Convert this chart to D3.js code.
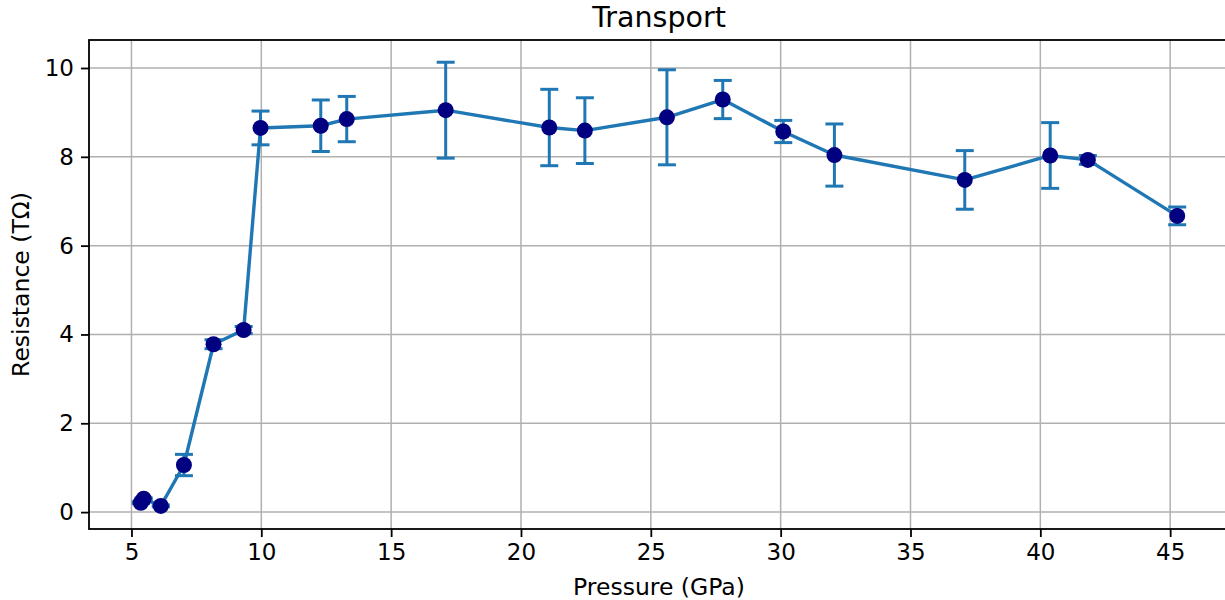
<!DOCTYPE html>
<html>
<head>
<meta charset="utf-8">
<script src="https://cdn.jsdelivr.net/npm/d3@7"></script>
<style>
  html, body { margin: 0; padding: 0; background: #fff; overflow: hidden; }
  svg { display: block; font-family: "DejaVu Sans", sans-serif; }
</style>
</head>
<body>
<svg id="chart" width="1225" height="600"></svg>
<script>
// Pressure (GPa), resistance (TΩ) and symmetric uncertainty
const pressure   = [5.36, 5.47, 6.13, 7.02, 8.16, 9.32, 9.97, 12.29, 13.29, 17.10, 21.09, 22.46, 25.62, 27.77, 30.10, 32.07, 37.09, 40.38, 41.83, 45.27];
const resistance = [0.21, 0.30, 0.14, 1.06, 3.78, 4.10, 8.65, 8.70, 8.85, 9.05, 8.66, 8.59, 8.89, 9.29, 8.57, 8.04, 7.48, 8.03, 7.93, 6.67];
const resErr     = [0.02, 0.02, 0.02, 0.24, 0.10, 0.08, 0.38, 0.58, 0.51, 1.08, 0.86, 0.74, 1.07, 0.43, 0.25, 0.70, 0.66, 0.74, 0.10, 0.20];
const xTicks = [5, 10, 15, 20, 25, 30, 35, 40, 45];
const yTicks = [0, 2, 4, 6, 8, 10];

const points = pressure.map((p, i) => ({ x: p, y: resistance[i], e: resErr[i] }));

const svg = d3.select("#chart");
const plot = { left: 89, right: 1229, top: 40, bottom: 529 };

// 5% padding around the data extent on both axes
function padded(lo, hi) { const m = (hi - lo) * 0.05; return [lo - m, hi + m]; }
const xDom = padded(d3.min(pressure), d3.max(pressure));
const yDom = padded(d3.min(points, d => d.y - d.e), d3.max(points, d => d.y + d.e));

const x = d3.scaleLinear().domain(xDom).range([plot.left, plot.right]);
const y = d3.scaleLinear().domain(yDom).range([plot.bottom, plot.top]);

const fontSize = 23;

// grid
const grid = svg.append("g");
grid.selectAll("line.gx").data(xTicks).join("line")
  .attr("x1", d => x(d)).attr("x2", d => x(d))
  .attr("y1", plot.top).attr("y2", plot.bottom)
  .attr("stroke", "#b0b0b0").attr("stroke-width", 1.5);
grid.selectAll("line.gy").data(yTicks).join("line")
  .attr("x1", plot.left).attr("x2", plot.right)
  .attr("y1", d => y(d)).attr("y2", d => y(d))
  .attr("stroke", "#b0b0b0").attr("stroke-width", 1.5);

// error bars
const bars = svg.append("g").attr("stroke", "#1f77b4").attr("stroke-width", 3);
bars.selectAll("line.v").data(points).join("line")
  .attr("x1", d => x(d.x)).attr("x2", d => x(d.x))
  .attr("y1", d => y(d.y - d.e)).attr("y2", d => y(d.y + d.e));
const cap = 9;
bars.selectAll("line.top").data(points).join("line")
  .attr("x1", d => x(d.x) - cap).attr("x2", d => x(d.x) + cap)
  .attr("y1", d => y(d.y + d.e)).attr("y2", d => y(d.y + d.e));
bars.selectAll("line.bot").data(points).join("line")
  .attr("x1", d => x(d.x) - cap).attr("x2", d => x(d.x) + cap)
  .attr("y1", d => y(d.y - d.e)).attr("y2", d => y(d.y - d.e));

// connecting line
svg.append("path").datum(points)
  .attr("fill", "none").attr("stroke", "#1f77b4").attr("stroke-width", 3.4)
  .attr("stroke-linejoin", "round")
  .attr("d", d3.line().x(d => x(d.x)).y(d => y(d.y)));

// markers
svg.append("g").selectAll("circle").data(points).join("circle")
  .attr("cx", d => x(d.x)).attr("cy", d => y(d.y)).attr("r", 8)
  .attr("fill", "#000080");

// axes
const xAxis = svg.append("g").attr("transform", `translate(0,${plot.bottom})`)
  .call(d3.axisBottom(x).tickValues(xTicks).tickFormat(d3.format("d")).tickSize(8).tickPadding(7));
const yAxis = svg.append("g").attr("transform", `translate(${plot.left},0)`)
  .call(d3.axisLeft(y).tickValues(yTicks).tickFormat(d3.format("d")).tickSize(8).tickPadding(7));
[xAxis, yAxis].forEach(a => {
  a.select(".domain").remove();
  a.selectAll(".tick line").attr("stroke", "#000").attr("stroke-width", 1.8);
  a.selectAll(".tick text").attr("fill", "#000").style("font-size", fontSize + "px")
    .style("font-family", "DejaVu Sans");
});

// frame
svg.append("rect")
  .attr("x", plot.left).attr("y", plot.top)
  .attr("width", plot.right - plot.left).attr("height", plot.bottom - plot.top)
  .attr("fill", "none").attr("stroke", "#000").attr("stroke-width", 1.8);

// labels
const cx = (plot.left + plot.right) / 2;
svg.append("text").attr("x", cx).attr("y", 27)
  .attr("text-anchor", "middle").style("font-size", "28.5px").text("Transport");
svg.append("text").attr("x", cx).attr("y", 595)
  .attr("text-anchor", "middle").style("font-size", "23.5px").text("Pressure (GPa)");
svg.append("text")
  .attr("transform", `translate(29,${(plot.top + plot.bottom) / 2}) rotate(-90)`)
  .attr("text-anchor", "middle").style("font-size", "23.5px").text("Resistance (TΩ)");
</script>
</body>
</html>
